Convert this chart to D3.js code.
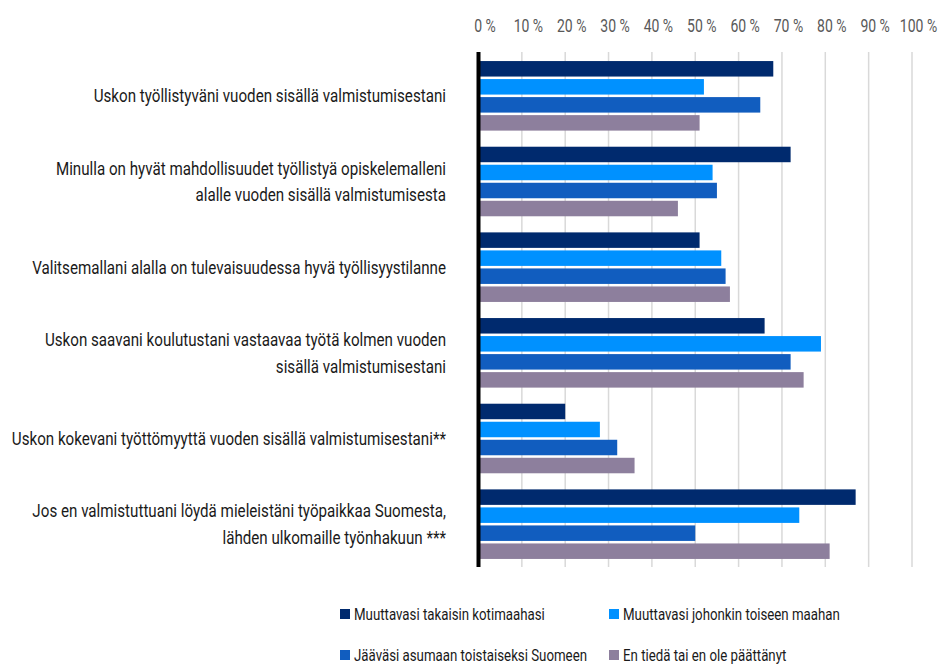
<!DOCTYPE html>
<html lang="fi">
<head>
  <meta charset="UTF-8">
  <script src="https://cdn.jsdelivr.net/npm/d3@7"></script>
  <title>Työllistymisnäkymät</title>
  <style>
    body { margin: 0; background: #fff; }
    text { font-family: "Roboto", sans-serif; }
  </style>
</head>
<body>
  <svg width="942" height="664" id="chart"></svg>
  <script>
  // categories, each one split into its display lines
  let categories = [
    ["Uskon työllistyväni vuoden sisällä valmistumisestani"],
    ["Minulla on hyvät mahdollisuudet työllistyä opiskelemalleni", "alalle vuoden sisällä valmistumisesta"],
    ["Valitsemallani alalla on tulevaisuudessa hyvä työllisyystilanne"],
    ["Uskon saavani koulutustani vastaavaa työtä kolmen vuoden", "sisällä valmistumisestani"],
    ["Uskon kokevani työttömyyttä vuoden sisällä valmistumisestani**"],
    ["Jos en valmistuttuani löydä mieleistäni työpaikkaa Suomesta,", "lähden ulkomaille työnhakuun ***"]
  ];
  let seriesNames = [
    "Muuttavasi takaisin kotimaahasi",
    "Muuttavasi johonkin toiseen maahan",
    "Jääväsi asumaan toistaiseksi Suomeen",
    "En tiedä tai en ole päättänyt"
  ];
  // values (%) per series, one per category
  let backHome    = [68, 72, 51, 66, 20, 87];
  let otherLand   = [52, 54, 56, 79, 28, 74];
  let stayFinland = [65, 55, 57, 72, 32, 50];
  let undecided   = [51, 46, 58, 75, 36, 81];
  let tickValues = [0, 10, 20, 30, 40, 50, 60, 70, 80, 90, 100];
  let colors = ["#002a6e", "#0091ff", "#115dbf", "#8d7f9d"];

  let series = [backHome, otherLand, stayFinland, undecided];

  // the original font is a condensed one, so squeeze the text horizontally
  let condense = 0.82;

  let svg = d3.select("#chart");

  /* SCALES */
  let scaleX = d3.scaleLinear().domain([0, 100]).range([478.5, 912]);
  let scaleY = d3.scaleBand()
    .domain(d3.range(categories.length))
    .range([53, 567])
    .paddingInner(0.188)
    .paddingOuter(0.094);
  let scaleSub = d3.scaleBand()
    .domain(d3.range(series.length))
    .range([0, scaleY.bandwidth()])
    .paddingInner(0.14);

  /* GRID */
  svg.append("g").selectAll("line")
    .data(tickValues.slice(1))
    .enter().append("line")
    .attr("x1", d => scaleX(d)).attr("x2", d => scaleX(d))
    .attr("y1", 52).attr("y2", 567)
    .attr("stroke", "#d9d9d9")
    .attr("stroke-width", 1.5);

  /* AXIS (top labels) */
  let axisX = d3.axisTop(scaleX)
    .tickValues(tickValues)
    .tickSize(0)
    .tickPadding(0)
    .tickFormat(d => d + " %");
  let axis = svg.append("g").attr("transform", "translate(6,32)").call(axisX);
  axis.select(".domain").remove();
  axis.selectAll(".tick text")
    .attr("dy", 0)
    .attr("transform", "scale(0.8,1)")
    .style("font-family", "Roboto, sans-serif")
    .style("font-size", "17.5px")
    .attr("fill", "#595959");

  /* BARS */
  let groups = svg.append("g").selectAll("g")
    .data(categories)
    .enter().append("g")
    .attr("transform", (d, i) => "translate(0," + scaleY(i) + ")");

  groups.selectAll("rect")
    .data((d, i) => series.map((s, j) => ({ v: s[i], j: j })))
    .enter().append("rect")
    .attr("x", scaleX(0))
    .attr("y", d => scaleSub(d.j))
    .attr("width", d => scaleX(d.v) - scaleX(0))
    .attr("height", scaleSub.bandwidth())
    .attr("fill", d => colors[d.j]);

  /* CATEGORY LABELS */
  let lineH = 26.5;
  groups.append("g")
    .attr("transform", "translate(446,0) scale(" + condense + ",1)")
    .append("text")
    .attr("text-anchor", "end")
    .style("font-size", "18.5px")
    .attr("fill", "#1a1a1a")
    .selectAll("tspan")
    .data(d => d)
    .enter().append("tspan")
    .attr("x", 0)
    .attr("y", (d, k, nodes) => scaleY.bandwidth() / 2 + (k - (nodes.length - 1) / 2) * lineH)
    .attr("dy", "0.35em")
    .text(d => d);

  /* Y AXIS LINE */
  svg.append("line")
    .attr("x1", 478.5).attr("x2", 478.5)
    .attr("y1", 52).attr("y2", 567)
    .attr("stroke", "#000")
    .attr("stroke-width", 4);

  /* LEGEND */
  let legendPos = [[340, 614], [609, 614], [340, 655], [609, 655]];
  let legend = svg.append("g").selectAll("g")
    .data(seriesNames)
    .enter().append("g")
    .attr("transform", (d, i) => "translate(" + legendPos[i][0] + "," + legendPos[i][1] + ")");
  legend.append("rect")
    .attr("x", 0).attr("y", -5)
    .attr("width", 10).attr("height", 10)
    .attr("fill", (d, i) => colors[i]);
  legend.append("text")
    .attr("transform", "translate(14,0) scale(0.8,1)")
    .attr("dy", "0.35em")
    .style("font-size", "16.6px")
    .attr("fill", "#1a1a1a")
    .text(d => d);
  </script>
</body>
</html>
